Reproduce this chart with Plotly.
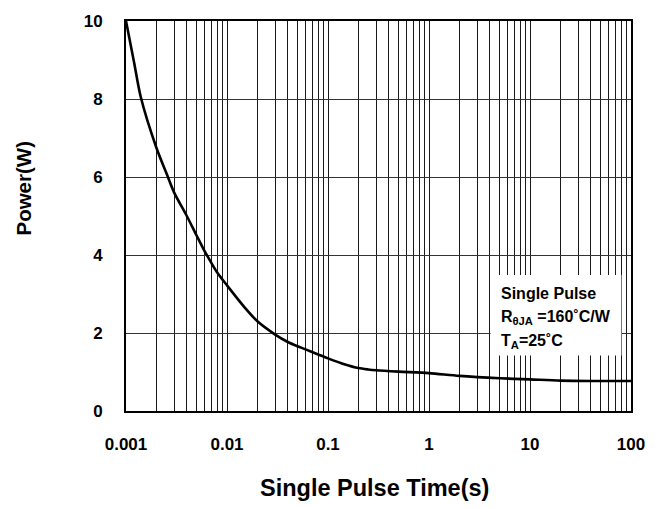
import plotly.graph_objects as go

# Single pulse maximum power vs pulse width
pulse_time = [0.001, 0.0012, 0.0014, 0.002, 0.0026, 0.003, 0.004, 0.005, 0.006,
              0.007, 0.008, 0.01, 0.015, 0.02, 0.03, 0.04, 0.05, 0.06, 0.08, 0.1,
              0.145, 0.2, 0.25, 0.3, 0.5, 1, 2, 5, 10, 20, 40, 100]
power = [10.0, 8.95, 8.05, 6.75, 6.0, 5.6, 5.0, 4.5, 4.1,
         3.8, 3.55, 3.22, 2.65, 2.30, 1.96, 1.77, 1.66, 1.58, 1.45, 1.35,
         1.20, 1.10, 1.065, 1.045, 1.01, 0.97, 0.90, 0.84, 0.81, 0.78, 0.77, 0.77]

decades = [0.001, 0.01, 0.1, 1, 10, 100]
decade_labels = ["0.001", "0.01", "0.1", "1", "10", "100"]
y_ticks = [0, 2, 4, 6, 8, 10]

FONT = "Liberation Sans, Arial, Helvetica, sans-serif"
GRID = "#1a1a1a"

fig = go.Figure()
fig.add_trace(go.Scatter(
    x=pulse_time, y=power, mode="lines",
    line=dict(color="black", width=2.6, shape="spline", smoothing=0.8),
    showlegend=False, hoverinfo="skip",
))

fig.update_layout(
    width=657, height=507,
    margin=dict(l=126, r=20, t=20, b=96),
    paper_bgcolor="white", plot_bgcolor="white",
    font=dict(family=FONT, color="black"),
    xaxis=dict(
        type="log", range=[-3, 2],
        tickmode="array", tickvals=decades, ticktext=decade_labels,
        showgrid=True, gridcolor=GRID, gridwidth=1,
        minor=dict(dtick="D1", showgrid=True, gridcolor=GRID, gridwidth=1, ticks=""),
        showline=True, linecolor="black", linewidth=2, mirror=True,
        ticks="", ticklabelstandoff=17,
        tickfont=dict(family=FONT, size=17, color="black", weight="bold"),
        zeroline=False,
    ),
    yaxis=dict(
        range=[0, 10], tickmode="array", tickvals=y_ticks,
        showgrid=True, gridcolor="#333333", gridwidth=1,
        showline=True, linecolor="black", linewidth=2, mirror=True,
        ticks="", ticklabelstandoff=18,
        tickfont=dict(family=FONT, size=17, color="black", weight="bold"),
        zeroline=False,
    ),
)

# axis titles
fig.add_annotation(
    text="<b>Single Pulse Time(s)</b>", xref="paper", yref="paper",
    x=0.493, y=-0.197, xanchor="center", yanchor="middle", showarrow=False,
    font=dict(family=FONT, size=23.5, color="black"),
)
fig.add_annotation(
    text="<b>Power(W)</b>", xref="paper", yref="paper",
    x=-0.2035, y=0.571, xanchor="center", yanchor="middle", showarrow=False,
    textangle=-90, font=dict(family=FONT, size=20.5, color="black"),
)

# condition box
fig.add_shape(
    type="rect", xref="paper", yref="paper",
    x0=0.722, x1=0.981, y0=0.142, y1=0.349,
    fillcolor="white", line=dict(width=0), layer="above",
)
box_lines = [
    "<b>Single Pulse</b>",
    "<b>R<sub>θJA</sub> =160˚C/W</b>",
    "<b>T<sub>A</sub>=25˚C</b>",
]
box_y = [0.302, 0.241, 0.178]
for txt, yy in zip(box_lines, box_y):
    fig.add_annotation(
        text=txt, xref="paper", yref="paper", x=0.738, y=yy,
        xanchor="left", yanchor="middle", showarrow=False,
        font=dict(family=FONT, size=16, color="black"),
    )

fig.write_html("out.html")
